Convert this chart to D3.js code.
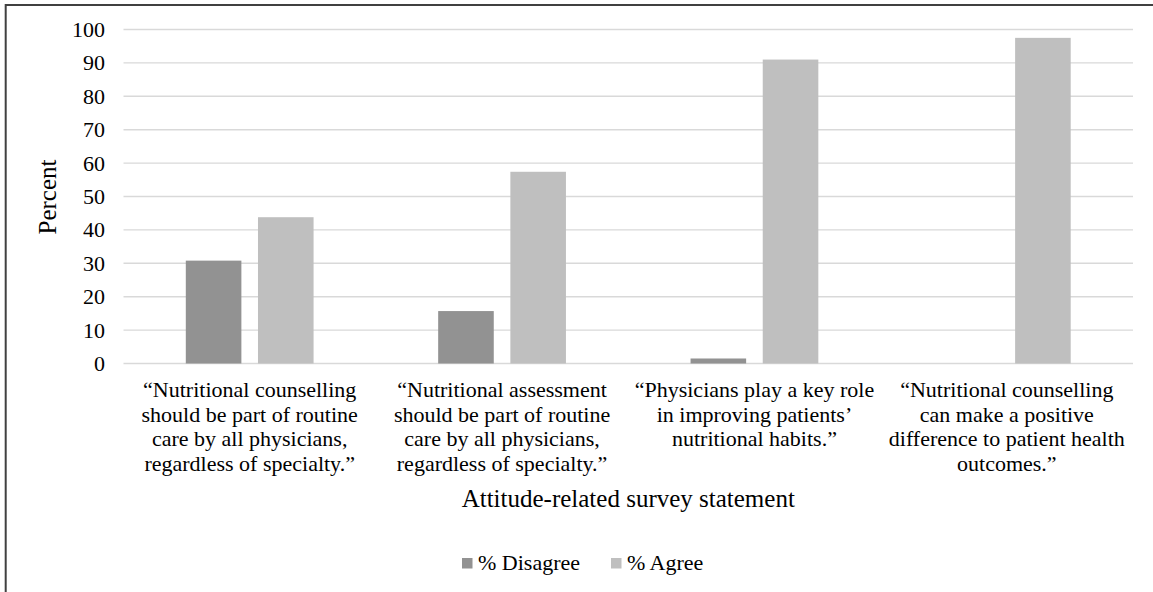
<!DOCTYPE html>
<html>
<head>
<meta charset="utf-8">
<script src="https://cdn.jsdelivr.net/npm/d3@7"></script>
<style>
  html, body { margin: 0; padding: 0; background: #fff; }
  svg text { font-family: "Liberation Serif", "Times New Roman", serif; }
</style>
</head>
<body>
<svg id="chart" width="1153" height="592"></svg>
<script>
// Survey statements (x categories), each split into wrapped lines
const categories = [
  ["\u201CNutritional counselling", "should be part of routine", "care by all physicians,", "regardless of specialty.\u201D"],
  ["\u201CNutritional assessment", "should be part of routine", "care by all physicians,", "regardless of specialty.\u201D"],
  ["\u201CPhysicians play a key role", "in improving patients\u2019", "nutritional habits.\u201D"],
  ["\u201CNutritional counselling", "can make a positive", "difference to patient health", "outcomes.\u201D"]
];
const seriesNames = ["% Disagree", "% Agree"];
const disagreeValues = [30.8, 15.7, 1.5, 0];
const agreeValues = [43.8, 57.4, 91.0, 97.5];
const yTicks = [0, 10, 20, 30, 40, 50, 60, 70, 80, 90, 100];
const seriesColors = ["#929292", "#bfbfbf"];

const seriesValues = [disagreeValues, agreeValues];
const FONT = "'Liberation Serif', 'Times New Roman', serif";
const svg = d3.select("#chart");

// Outer frame (top and left edges)
svg.append("line").attr("x1", 5.7).attr("x2", 1153).attr("y1", 5).attr("y2", 5)
  .attr("stroke", "#404040").attr("stroke-width", 2);
svg.append("line").attr("x1", 5.7).attr("x2", 5.7).attr("y1", 4).attr("y2", 592)
  .attr("stroke", "#404040").attr("stroke-width", 2);

const plot = { left: 123.5, right: 1133, top: 29.5, bottom: 363.5 };

const x = d3.scaleBand()
  .domain(d3.range(categories.length))
  .range([plot.left, plot.right])
  .padding(0);

const xInner = d3.scaleBand()
  .domain(d3.range(seriesNames.length))
  .range([0, x.bandwidth()])
  .paddingInner(0.23)
  .paddingOuter(0.863);

const y = d3.scaleLinear().domain([0, 100]).range([plot.bottom, plot.top]);

// Horizontal gridlines
svg.append("g")
  .selectAll("line")
  .data(yTicks)
  .join("line")
  .attr("x1", plot.left).attr("x2", plot.right)
  .attr("y1", d => y(d)).attr("y2", d => y(d))
  .attr("stroke", "#d9d9d9").attr("stroke-width", 1.4);

// Y axis tick labels
const yAxis = d3.axisLeft(y).tickValues(yTicks).tickSize(0).tickPadding(0);
const yG = svg.append("g").attr("transform", `translate(105,0)`).call(yAxis)
  .attr("font-family", null).attr("font-size", null);
yG.select(".domain").remove();
yG.selectAll("text")
  .style("font-family", FONT)
  .style("font-size", "22px")
  .attr("fill", "#000");

// Bars
const groups = svg.append("g")
  .selectAll("g")
  .data(categories.map((c, i) => i))
  .join("g")
  .attr("transform", i => `translate(${x(i)},0)`);

groups.selectAll("rect")
  .data(i => seriesValues.map((vals, s) => ({ s, v: vals[i] })))
  .join("rect")
  .attr("x", d => xInner(d.s))
  .attr("width", xInner.bandwidth())
  .attr("y", d => y(d.v))
  .attr("height", d => y(0) - y(d.v))
  .attr("fill", d => seriesColors[d.s]);

// Category labels
const catLabels = svg.append("g")
  .selectAll("text")
  .data(categories)
  .join("text")
  .attr("text-anchor", "middle")
  .style("font-family", FONT)
  .style("font-size", "22px")
  .attr("fill", "#000")
  .attr("transform", (d, i) => `translate(${x(i) + x.bandwidth() / 2},397)`);
catLabels.selectAll("tspan")
  .data(d => d)
  .join("tspan")
  .attr("x", 0)
  .attr("y", (d, j) => j * 24.7)
  .text(d => d);

// Axis titles
svg.append("text")
  .attr("x", (plot.left + plot.right) / 2)
  .attr("y", 507)
  .attr("text-anchor", "middle")
  .style("font-family", FONT)
  .style("font-size", "25px")
  .attr("fill", "#000")
  .text("Attitude-related survey statement");

svg.append("text")
  .attr("transform", `translate(56,${(plot.top + plot.bottom) / 2 + 0.5}) rotate(-90)`)
  .attr("text-anchor", "middle")
  .style("font-family", FONT)
  .style("font-size", "25px")
  .attr("fill", "#000")
  .text("Percent");

// Legend
const legendX = [462, 611];
const legend = svg.append("g")
  .selectAll("g")
  .data(seriesNames)
  .join("g")
  .attr("transform", (d, i) => `translate(${legendX[i]},558)`);
legend.append("rect")
  .attr("width", 10.5).attr("height", 10.5)
  .attr("fill", (d, i) => seriesColors[i]);
legend.append("text")
  .attr("x", 16).attr("y", 12)
  .style("font-family", FONT)
  .style("font-size", "22px")
  .attr("fill", "#000")
  .text(d => d);
</script>
</body>
</html>
